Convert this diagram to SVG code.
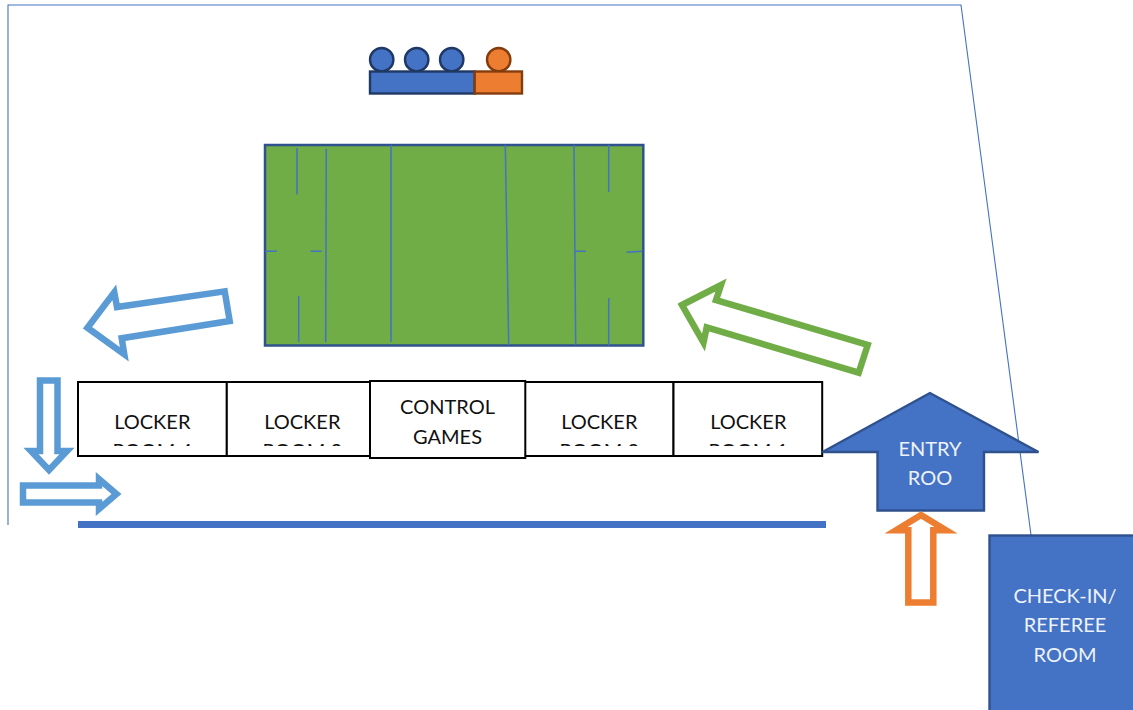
<svg xmlns="http://www.w3.org/2000/svg" width="1133" height="710" viewBox="0 0 1133 710">
<style>
text{font-family:"Lato","Carlito","Open Sans",sans-serif;font-size:20px;text-anchor:middle}
.dark{fill:#111}
.light{fill:#eef2fa}
.box{fill:#fff;stroke:#000;stroke-width:2}
.wall{fill:none;stroke:#4472c4;stroke-width:1.1}
.mark{fill:none;stroke:#4472c4;stroke-width:1.5}
.hollow{fill:#fff;stroke-width:6.5;stroke-miterlimit:12}
.sky{stroke:#5b9bd5}
.grass{stroke:#70ad47}
.amber{stroke:#ed7d31}
.seatb{fill:#4472c4;stroke:#203864;stroke-width:2.4}
.seato{fill:#ed7d31;stroke:#843c0c;stroke-width:2.4}
</style>
<defs>
<clipPath id="lockerClip"><rect x="70" y="382" width="760" height="64"/></clipPath>
</defs>
<g id="walls">
<path class="wall" d="M8 525V5H961L1031 535"/>
<rect x="78" y="521" width="748" height="7" fill="#4472c4"/>
</g>
<g id="stands">
<circle class="seatb" cx="381.7" cy="59.7" r="11.7"/>
<circle class="seatb" cx="416.7" cy="59.7" r="11.7"/>
<circle class="seatb" cx="451.7" cy="59.7" r="11.7"/>
<circle class="seato" cx="498.7" cy="59.7" r="11.7"/>
<rect class="seatb" x="370" y="71.5" width="104.7" height="22"/>
<rect class="seato" x="474.7" y="71.5" width="47.3" height="22"/>
</g>
<g id="field">
<rect x="265" y="145" width="378.3" height="200.5" fill="#70ad47" stroke="#2f528f" stroke-width="2.5"/>
<path class="mark" d="M297 148V194.5M326.3 148.7L325.7 342.3M391 145V342M505.3 145L508.7 345M574 145L575.7 345M608.7 145V192M608.7 298.3V345.5M298.7 296V342M265 251.3H276.7M310.7 251.3H321.7M574.3 251.3H585.7M626.7 252.3L642.7 251.3"/>
</g>
<g id="locker-4"><rect class="box" x="78" y="382" width="148.8" height="74"/><text class="dark" x="152.3" y="429.3">LOCKER</text><text class="dark" x="152.3" y="458" clip-path="url(#lockerClip)">ROOM 4</text></g>
<g id="locker-3"><rect class="box" x="226.8" y="382" width="143.2" height="74"/><text class="dark" x="302.3" y="429.3">LOCKER</text><text class="dark" x="302.3" y="458" clip-path="url(#lockerClip)">ROOM 3</text></g>
<g id="locker-2"><rect class="box" x="525" y="382" width="148.5" height="74"/><text class="dark" x="599.3" y="429.3">LOCKER</text><text class="dark" x="599.3" y="458" clip-path="url(#lockerClip)">ROOM 2</text></g>
<g id="locker-1"><rect class="box" x="673.5" y="382" width="148.7" height="74"/><text class="dark" x="748.3" y="429.3">LOCKER</text><text class="dark" x="748.3" y="458" clip-path="url(#lockerClip)">ROOM 1</text></g>
<g id="control-games"><rect class="box" x="370" y="381" width="155.3" height="77"/><text class="dark" x="447.5" y="414">CONTROL</text><text class="dark" x="447.5" y="444">GAMES</text></g>
<g id="entry-room">
<path d="M930 393L822.5 452H877.5V510.5H984V452H1038.5Z" fill="#4472c4" stroke="#2f528f" stroke-width="2.4"/>
<text class="light" x="930" y="456">ENTRY</text><text class="light" x="930" y="485">ROO</text>
</g>
<g id="check-in">
<rect x="989.5" y="535.5" width="160" height="190" fill="#4472c4" stroke="#2f528f" stroke-width="2.4"/>
<text class="light" x="1065" y="602.7">CHECK-IN/</text><text class="light" x="1065" y="632.3">REFEREE</text><text class="light" x="1065" y="662.3">ROOM</text>
</g>
<g id="connectors">
<path class="hollow sky" d="M40 380.5H57.5V451H67L49 470L31 451H40Z"/>
<path class="hollow sky" d="M23 485.5H99V479L116.5 494L99 509V502.5H23Z"/>
<path class="hollow sky" d="M87.5 327.7L114.3 292.3L117 307L224.7 291.3L229.7 321L121.7 338.3L124.3 354.3Z"/>
<path class="hollow grass" d="M682 305L721 285L716 300L867.7 345L858.7 372.7L706.7 327.3L703.5 342.5Z"/>
<path class="hollow amber" d="M908.3 602.5H933.3V530.3H946L921 515L896 530.3H908.3Z"/>
</g>
</svg>
